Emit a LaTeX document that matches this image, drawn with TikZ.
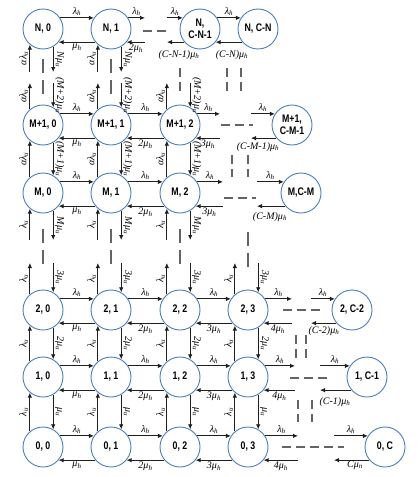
\documentclass[tikz,border=0pt]{standalone}
\usepackage{fontspec}
\setmainfont{Liberation Serif}
\newfontfamily\nodefont[FakeStretch=0.8]{Liberation Sans}
\usetikzlibrary{arrows.meta}
\definecolor{nodeblue}{RGB}{74,126,187}
\definecolor{dashgray}{RGB}{100,100,100}
\definecolor{arrgray}{RGB}{30,30,30}
\newcommand\Lh{λ\textsubscript{h}}
\newcommand\Mh{μ\textsubscript{h}}
\newcommand\Lu{λ\textsubscript{u}}
\newcommand\Mu{μ\textsubscript{u}}
\newcommand\Mn{μ\textsubscript{n}}
\newcommand\aLu{αλ\textsubscript{u}}
\begin{document}
\begin{tikzpicture}[x=1pt,y=-1pt,
  st/.style={circle,draw=nodeblue,line width=0.9pt,minimum size=40pt,inner sep=0pt,align=center,
    font=\nodefont\bfseries\fontsize{11}{12.5}\selectfont},
  arr/.style={arrgray,-{Latex[length=5pt,width=4.5pt]},line width=0.9pt},
  dsh/.style={dashgray,line width=1.2pt,dash pattern=on 9pt off 5pt},
  dshv/.style={dashgray,line width=1.2pt,dash pattern=on 14pt off 7pt},
  lab/.style={font=\itshape\fontsize{10}{11}\selectfont,inner sep=1.5pt,text=black},
  labu/.style={lab,rotate=90,anchor=south},
  labd/.style={lab,rotate=-90,anchor=south}]
\useasboundingbox (0,0) rectangle (419,477);

% ---------------- nodes ----------------
\node[st] (N0) at (43,29) {N, 0};
\node[st] (N1) at (111,29) {N, 1};
\node[st] (NC1) at (200,29) {N,\\C-N-1};
\node[st] (NC) at (258,29) {N, C-N};

\node[st] (P0) at (43,125) {M+1, 0};
\node[st] (P1) at (111,125) {M+1, 1};
\node[st] (P2) at (180,125) {M+1, 2};
\node[st] (PC) at (292,125) {M+1,\\C-M-1};

\node[st] (M0) at (43,193) {M, 0};
\node[st] (M1) at (111,193) {M, 1};
\node[st] (M2) at (180,193) {M, 2};
\node[st] (MC) at (301,193) {M,C-M};

\node[st] (T0) at (43,310) {2, 0};
\node[st] (T1) at (111,310) {2, 1};
\node[st] (T2) at (180,310) {2, 2};
\node[st] (T3) at (248,310) {2, 3};
\node[st] (TC) at (352,310) {2, C-2};

\node[st] (O0) at (43,377) {1, 0};
\node[st] (O1) at (111,377) {1, 1};
\node[st] (O2) at (180,377) {1, 2};
\node[st] (O3) at (248,377) {1, 3};
\node[st] (OC) at (367,377) {1, C-1};

\node[st] (Z0) at (43,447) {0, 0};
\node[st] (Z1) at (111,447) {0, 1};
\node[st] (Z2) at (180,447) {0, 2};
\node[st] (Z3) at (248,447) {0, 3};
\node[st] (ZC) at (385,447) {0, C};

% ---------------- free-end coordinates ----------------
\coordinate (xNa) at (145,0);  \coordinate (xNb) at (167,0);
\coordinate (xPa) at (220,0);  \coordinate (xPb) at (251,0);
\coordinate (xMa) at (223,0);  \coordinate (xMb) at (257,0);
\coordinate (xTa) at (292,0);  \coordinate (xTb) at (311,0);
\coordinate (xOa) at (295,0);  \coordinate (xOb) at (320,0);
\coordinate (xZa) at (298,0);  \coordinate (xZb) at (334,0);
\coordinate (yNa) at (0,72);   \coordinate (yNb) at (0,83);
\coordinate (yMa) at (0,240);  \coordinate (yMb) at (0,263);

% ---------------- row N ----------------
\draw[arr] (N0.33) -- node[lab,above]{\Lh} (N1.147);
\draw[arr] (N1.220) -- node[lab,below]{\Mh} (N0.-40);
\draw[arr] (N1.33) -- node[lab,above]{\Lh} (N1.33 -| xNa);
\draw[arr] (N1.-40 -| xNa) -- node[lab,below]{2\Mh} (N1.-40);
\draw[dsh] (143,31) -- (167,31);
\draw[arr] (NC1.147 -| xNb) -- node[lab,above]{\Lh} (NC1.147);
\draw[arr] (NC1.220) -- (NC1.220 -| xNb);
\node[lab] (lNC1) at (179,55) {(C-N-1)\Mh};
\draw[arr] (NC1.33) -- node[lab,above]{\Lh} (NC.147);
\draw[arr] (NC.220) -- (NC1.-40);
\node[lab] (lNC) at (232,55) {(C-N)\Mh};

% ---------------- row M+1 ----------------
\draw[arr] (P0.33) -- node[lab,above]{\Lh} (P1.147);
\draw[arr] (P1.220) -- node[lab,below]{\Mh} (P0.-40);
\draw[arr] (P1.33) -- node[lab,above]{\Lh} (P2.147);
\draw[arr] (P2.220) -- node[lab,below]{2\Mh} (P1.-40);
\draw[arr] (P2.33) -- node[lab,above]{\Lh} (P2.33 -| xPa);
\draw[arr] (P2.-40 -| xPa) -- node[lab,below]{3\Mh} (P2.-40);
\draw[dsh] (221,125) -- (253,125);
\draw[arr] (PC.147 -| xPb) -- node[lab,above]{\Lh} (PC.147);
\draw[arr] (PC.220) -- (PC.220 -| xPb);
\node[lab] (lPC) at (258,147) {(C-M-1)\Mh};

% ---------------- row M ----------------
\draw[arr] (M0.33) -- node[lab,above]{\Lh} (M1.147);
\draw[arr] (M1.220) -- node[lab,below]{\Mh} (M0.-40);
\draw[arr] (M1.33) -- node[lab,above]{\Lh} (M2.147);
\draw[arr] (M2.220) -- node[lab,below]{2\Mh} (M1.-40);
\draw[arr] (M2.33) -- node[lab,above]{\Lh} (M2.33 -| xMa);
\draw[arr] (M2.-40 -| xMa) -- node[lab,below]{3\Mh} (M2.-40);
\draw[dsh] (224,198) -- (256,198);
\draw[arr] (MC.147 -| xMb) -- node[lab,above]{\Lh} (MC.147);
\draw[arr] (MC.220) -- (MC.220 -| xMb);
\node[lab] (lMC) at (270,217) {(C-M)\Mh};

% ---------------- rows 2, 1, 0 ----------------
\foreach \r in {T,O,Z}{
  \draw[arr] (\r0.33) -- node[lab,above]{\Lh} (\r1.147);
  \draw[arr] (\r1.220) -- node[lab,below]{\Mh} (\r0.-40);
  \draw[arr] (\r1.33) -- node[lab,above]{\Lh} (\r2.147);
  \draw[arr] (\r2.220) -- node[lab,below]{2\Mh} (\r1.-40);
  \draw[arr] (\r2.33) -- node[lab,above]{\Lh} (\r3.147);
  \draw[arr] (\r3.220) -- node[lab,below]{3\Mh} (\r2.-40);
  \draw[arr] (\r3.33) -- node[lab,above]{\Lh} (\r3.33 -| x\r a);
  \draw[arr] (\r3.-40 -| x\r a) -- node[lab,below]{4\Mh} (\r3.-40);
  \draw[arr] (\r C.147 -| x\r b) -- node[lab,above]{\Lh} (\r C.147);
  \draw[arr] (\r C.220) -- (\r C.220 -| x\r b);
}
\draw[dsh] (283,310) -- (321,310);
\node[lab] (lTC) at (324,331) {(C-2)\Mh};
\draw[dsh] (290,378) -- (328,378);
\node[lab] (lOC) at (335,402) {(C-1)\Mh};
\draw[dsh] (282,447) -- (344,447);
\node[lab] (lZC) at (355,465) {C\Mn};

% ---------------- vertical: rows 0-1 and 1-2 ----------------
\foreach \c in {0,1,2,3}{
  \draw[arr] (Z\c.130) -- node[labu]{\Lu} (O\c.230);
  \draw[arr] (O\c.-60) -- node[labd]{\Mu} (Z\c.60);
  \draw[arr] (O\c.130) -- node[labu]{\Lu} (T\c.230);
  \draw[arr] (T\c.-60) -- node[labd]{2\Mu} (O\c.60);
}

% ---------------- vertical: rows 2 ... M (broken) ----------------
\foreach \c/\x in {0/43,1/111,2/180}{
  \draw[arr] (M\c.230 |- yMa) -- node[labu]{\Lu} (M\c.230);
  \draw[arr] (M\c.-60) -- node[labd]{M\Mu} (M\c.-60 |- yMa);
  \draw[dshv] (\x,229) -- (\x,264);
}
\draw[dshv] (248,232) -- (248,267);
\foreach \c in {0,1,2,3}{
  \draw[arr] (T\c.130) -- node[labu]{\Lu} (T\c.130 |- yMb);
  \draw[arr] (T\c.60 |- yMb) -- node[labd]{3\Mu} (T\c.60);
}

% ---------------- vertical: rows M - M+1 ----------------
\foreach \c in {0,1,2}{
  \draw[arr] (M\c.130) -- node[labu]{\aLu} (P\c.230);
  \draw[arr] (P\c.-60) -- node[labd]{(M+1)\Mu} (M\c.60);
}

% ---------------- vertical: rows M+1 ... N (broken) ----------------
\foreach \c/\x in {0/43,1/111}{
  \draw[arr] (N\c.230 |- yNa) -- node[labu]{\aLu} (N\c.230);
  \draw[arr] (N\c.-60) -- node[labd]{N\Mu} (N\c.-60 |- yNa);
  \draw[dshv] (\x,59) -- (\x,94);
}
\draw[dsh] (180,68) -- (180,91);
\foreach \c in {0,1,2}{
  \draw[arr] (P\c.130) -- node[labu]{\aLu} (P\c.130 |- yNb);
  \draw[arr] (P\c.60 |- yNb) -- node[labd]{(M+2)\Mu} (P\c.60);
}

% ---------------- extra dashed continuations ----------------
\draw[dsh] (227,68) -- (227,91);
\draw[dsh] (241,68) -- (241,91);
\draw[dsh] (232,155) -- (232,177);
\draw[dsh] (248,155) -- (248,177);
\draw[dsh] (296,335) -- (296,358);
\draw[dsh] (306,335) -- (306,358);
\draw[dsh] (298,400) -- (298,422);
\draw[dsh] (312,400) -- (312,422);
\end{tikzpicture}
\end{document}
